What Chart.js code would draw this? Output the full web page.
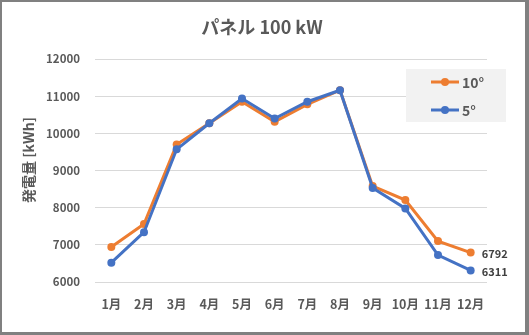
<!DOCTYPE html>
<html>
<head>
<meta charset="utf-8">
<script src="https://cdn.jsdelivr.net/npm/chart.js@4.4.1/dist/chart.umd.min.js"></script>
<style>
  html, body { margin: 0; padding: 0; background: #fff; }
  .frame {
    width: 523px; height: 330px;
    border-style: solid; border-color: #808080;
    border-width: 2px 4px 3px 2px;
    background: #fff;
  }
  canvas { display: block; }
</style>
</head>
<body>
<div class="frame"><canvas id="chart" width="523" height="330"></canvas></div>
<script>
// chart data
const MONTHS = ['1月', '2月', '3月', '4月', '5月', '6月', '7月', '8月', '9月', '10月', '11月', '12月'];
const SERIES_NAMES = ['10°', '5°'];
const TILT_10 = [6940, 7560, 9700, 10270, 10850, 10310, 10780, 11160, 8580, 8204, 7100, 6792];
const TILT_5 = [6520, 7340, 9570, 10270, 10938, 10400, 10850, 11160, 8530, 7980, 6725, 6311];
const Y_MIN = 6000;
const Y_MAX = 12000;
const Y_STEP = 1000;
const CHART_TITLE = 'パネル 100 kW';
const Y_TITLE = '発電量 [kWh]';

const TEXT = '#595959';
const FONT = "'Noto Sans CJK JP', 'Noto Sans', sans-serif";
const ORANGE = '#ED7D31';
const BLUE = '#4472C4';

// titles drawn by hand so they sit where Excel put them
const titles = {
  id: 'titles',
  afterDraw(chart) {
    const ctx = chart.ctx;
    ctx.save();
    ctx.fillStyle = TEXT;
    ctx.textAlign = 'center';
    ctx.textBaseline = 'middle';
    ctx.font = 'bold 18px ' + FONT;
    ctx.fillText(CHART_TITLE, 260, 25);
    ctx.translate(27, 158);
    ctx.rotate(-Math.PI / 2);
    ctx.font = 'bold 14px ' + FONT;
    ctx.fillText(Y_TITLE, 0, 0);
    ctx.restore();
  }
};

// legend box floating over the plot, like the Excel original
const boxLegend = {
  id: 'boxLegend',
  afterDraw(chart) {
    const ctx = chart.ctx;
    const x0 = 404, y0 = 67, w = 100, h = 53;
    ctx.save();
    ctx.fillStyle = '#f2f2f2';
    ctx.fillRect(x0, y0, w, h);
    chart.data.datasets.forEach((ds, i) => {
      const y = y0 + 13 + i * 28;
      ctx.strokeStyle = ds.borderColor;
      ctx.lineWidth = 3;
      ctx.beginPath();
      ctx.moveTo(x0 + 25, y);
      ctx.lineTo(x0 + 53, y);
      ctx.stroke();
      ctx.fillStyle = ds.borderColor;
      ctx.beginPath();
      ctx.arc(x0 + 39, y, 4, 0, Math.PI * 2);
      ctx.fill();
      ctx.fillStyle = TEXT;
      ctx.font = 'bold 14px ' + FONT;
      ctx.textAlign = 'left';
      ctx.textBaseline = 'middle';
      ctx.fillText(ds.label, x0 + 56, y + 1);
    });
    ctx.restore();
  }
};

// value labels on the last point of each line
const endLabels = {
  id: 'endLabels',
  afterDatasetsDraw(chart) {
    const ctx = chart.ctx;
    ctx.save();
    ctx.font = 'bold 11px ' + FONT;
    ctx.fillStyle = '#404040';
    ctx.textAlign = 'left';
    ctx.textBaseline = 'middle';
    chart.data.datasets.forEach((ds, i) => {
      const pts = chart.getDatasetMeta(i).data;
      const last = pts[pts.length - 1];
      ctx.fillText(String(ds.data[ds.data.length - 1]), last.x + 11, last.y + 1);
    });
    ctx.restore();
  }
};

const ctx = document.getElementById('chart').getContext('2d');
new Chart(ctx, {
  type: 'line',
  data: {
    labels: MONTHS,
    datasets: [
      {
        label: SERIES_NAMES[0],
        data: TILT_10,
        borderColor: ORANGE,
        backgroundColor: ORANGE,
        borderWidth: 3,
        pointRadius: 4,
        pointBackgroundColor: ORANGE,
        pointBorderWidth: 0,
        tension: 0,
        order: 1
      },
      {
        label: SERIES_NAMES[1],
        data: TILT_5,
        borderColor: BLUE,
        backgroundColor: BLUE,
        borderWidth: 3,
        pointRadius: 4,
        pointBackgroundColor: BLUE,
        pointBorderWidth: 0,
        tension: 0,
        order: 0
      }
    ]
  },
  options: {
    responsive: false,
    animation: false,
    layout: { padding: { top: 57, right: 38, bottom: 0, left: 0 } },
    plugins: {
      legend: { display: false },
      tooltip: { enabled: false },
      title: { display: false }
    },
    scales: {
      x: {
        offset: true,
        grid: { display: false, drawTicks: false },
        border: { display: false },
        ticks: { color: TEXT, font: { family: FONT, size: 12.5, weight: 'bold' }, padding: 15, maxRotation: 0 },
        afterFit: s => { s.height = 50; }
      },
      y: {
        min: Y_MIN,
        max: Y_MAX,
        grid: { color: '#d9d9d9', drawTicks: false },
        border: { display: false },
        ticks: {
          stepSize: Y_STEP,
          color: TEXT,
          font: { family: FONT, size: 11.5, weight: 'bold' },
          padding: 15,
          callback: v => String(v)
        },
        afterFit: s => { s.width = 93; }
      }
    }
  },
  plugins: [titles, boxLegend, endLabels]
});
</script>
</body>
</html>
